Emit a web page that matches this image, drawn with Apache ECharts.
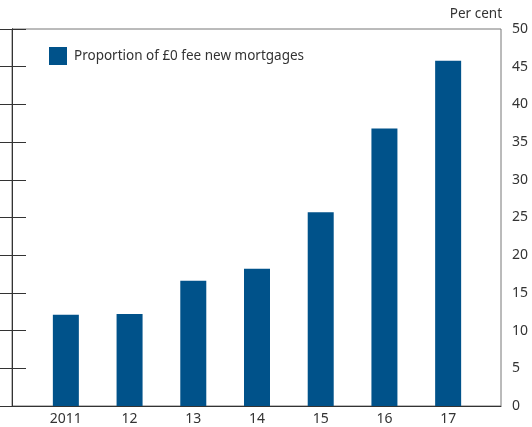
<!DOCTYPE html>
<html>
<head>
<meta charset="utf-8">
<script src="https://cdn.jsdelivr.net/npm/echarts@6/dist/echarts.min.js"></script>
<style>
  html, body { margin: 0; padding: 0; background: #fff; }
  #chart { width: 532px; height: 427px; }
</style>
</head>
<body>
<div id="chart"></div>
<script>
// values
const years = ['2011', '12', '13', '14', '15', '16', '17'];
const zeroFeeShare = [12.1, 12.2, 16.6, 18.2, 25.7, 36.8, 45.8];
const seriesName = 'Proportion of £0 fee new mortgages';
const unitLabel = 'Per cent';

const chart = echarts.init(document.getElementById('chart'));
const font = 'Noto Sans';
const ink = '#333';

chart.setOption({
  animation: false,
  textStyle: { fontFamily: font },
  grid: [
    // frame + y axes
    { left: 12, right: 31, top: 29, bottom: 21, show: true, borderColor: '#777', borderWidth: 1 },
    // bars, category axis sits inside the frame
    { left: 34, right: 52, top: 29, bottom: 21 }
  ],
  legend: {
    left: 49, top: 47, padding: 0,
    icon: 'rect', itemWidth: 18, itemHeight: 18,
    textStyle: { fontSize: 13.5, color: ink, fontFamily: font, padding: [0, 0, 0, 2] },
    data: [seriesName]
  },
  graphic: [
    {
      type: 'text', right: 30, top: 7,
      style: { text: unitLabel, fontSize: 13.5, fill: ink, fontFamily: font }
    }
  ],
  xAxis: [
    {
      gridIndex: 0, type: 'value', min: 0, max: 1,
      axisLine: { show: true, lineStyle: { color: ink } },
      axisTick: { show: false }, axisLabel: { show: false }, splitLine: { show: false }
    },
    {
      gridIndex: 1, type: 'category', data: years,
      axisLine: { show: false },
      axisTick: { inside: true, length: 14, lineStyle: { color: ink } },
      axisLabel: { fontSize: 14, color: ink, margin: 6 },
      splitLine: { show: false }
    }
  ],
  yAxis: [
    {
      gridIndex: 0, type: 'value', position: 'right', min: 0, max: 50, interval: 5,
      axisLine: { show: true, lineStyle: { color: ink } },
      axisTick: { inside: true, length: 14, lineStyle: { color: ink } },
      axisLabel: { fontSize: 14, color: ink, margin: 11 },
      splitLine: { show: false }
    },
    {
      gridIndex: 0, type: 'value', position: 'left', min: 0, max: 50, interval: 5,
      axisLine: { show: true, lineStyle: { color: ink } },
      axisTick: { inside: true, length: 14, lineStyle: { color: ink } },
      axisLabel: { show: false }, splitLine: { show: false }
    },
    {
      gridIndex: 1, type: 'value', min: 0, max: 50, show: false
    }
  ],
  series: [
    {
      name: seriesName, type: 'bar',
      xAxisIndex: 1, yAxisIndex: 2,
      barWidth: 26,
      itemStyle: { color: '#00528a' },
      data: zeroFeeShare
    }
  ]
});
</script>
</body>
</html>
